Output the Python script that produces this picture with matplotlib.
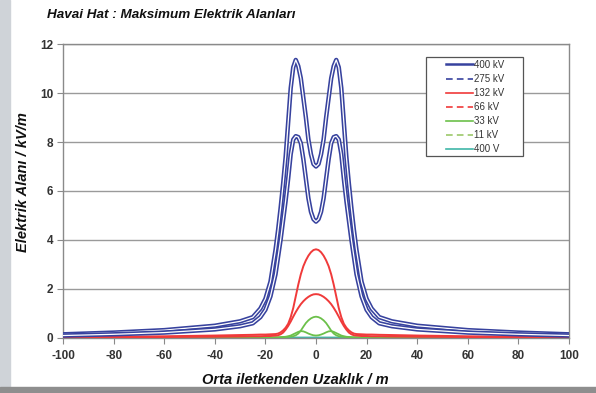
import matplotlib

matplotlib.use("Agg")
import matplotlib.pyplot as plt
from matplotlib.lines import Line2D
from matplotlib.patches import Rectangle
import matplotlib.patheffects as pe

plt.rcParams["font.family"] = ["Liberation Sans", "DejaVu Sans"]
plt.rcParams["axes.unicode_minus"] = False

# distance from the middle conductor (m)
x_m = [-100, -80, -60, -40, -30, -25, -22, -20, -18, -16, -15, -14, -13, -12, -11,
       -10, -9, -8, -7, -6, -5, -4, -3, -2, -1, 0, 1, 2, 3, 4, 5, 6, 7, 8, 9, 10,
       11, 12, 13, 14, 15, 16, 18, 20, 22, 25, 30, 40, 60, 80, 100]

# field strength (kV/m), left half incl. 0; the right half mirrors it
e_400kv_left = [0.15, 0.22, 0.32, 0.5, 0.68, 0.85, 1.2, 1.6, 2.3, 3.6, 4.4, 5.3,
                6.3, 7.4, 8.8, 10.2, 11.05, 11.35, 11.1, 10.6, 9.8, 9.0, 8.1, 7.5,
                7.1, 7.0]
e_275kv_left = [0.1, 0.15, 0.22, 0.35, 0.48, 0.6, 0.85, 1.15, 1.7, 2.6, 3.3, 4.0,
                4.8, 5.6, 6.5, 7.5, 8.1, 8.24, 8.2, 7.95, 7.3, 6.5, 5.7, 5.15, 4.85,
                4.75]
e_132kv_left = [0.04, 0.05, 0.07, 0.1, 0.12, 0.13, 0.14, 0.14, 0.15, 0.16, 0.18,
                0.23, 0.31, 0.42, 0.58, 0.85, 1.22, 1.7, 2.18, 2.6, 2.93, 3.17, 3.36,
                3.5, 3.59, 3.62]
e_66kv_left = [0.02, 0.03, 0.04, 0.05, 0.06, 0.07, 0.07, 0.08, 0.08, 0.1, 0.11, 0.15,
               0.22, 0.34, 0.49, 0.67, 0.87, 1.06, 1.23, 1.38, 1.5, 1.6, 1.68, 1.74,
               1.78, 1.79]
e_33kv_left = [0.01, 0.01, 0.01, 0.01, 0.02, 0.02, 0.02, 0.02, 0.02, 0.03, 0.03, 0.03,
               0.04, 0.04, 0.05, 0.06, 0.07, 0.11, 0.18, 0.3, 0.46, 0.61, 0.72, 0.8,
               0.85, 0.87]
e_11kv_left = [0.0, 0.0, 0.0, 0.0, 0.01, 0.01, 0.01, 0.01, 0.01, 0.02, 0.02, 0.03,
               0.04, 0.05, 0.07, 0.1, 0.15, 0.2, 0.25, 0.28, 0.27, 0.23, 0.18, 0.14,
               0.11, 0.1]
e_400v_left = [0.0, 0.0, 0.0, 0.0, 0.0, 0.0, 0.0, 0.0, 0.0, 0.0, 0.0, 0.01, 0.01, 0.01,
               0.01, 0.01, 0.01, 0.02, 0.02, 0.02, 0.02, 0.02, 0.02, 0.02, 0.02, 0.02]

labels = ["400 kV", "275 kV", "132 kV", "66 kV", "33 kV", "11 kV", "400 V"]


def mirrored(left):
    return left + left[-2::-1]


blue = "#37429e"
red = "#f03a3a"
green = "#6cc04a"
lgreen = "#9cc86a"
teal = "#3fb6a8"

fig = plt.figure(figsize=(5.96, 3.93), dpi=100)
fig.patch.set_facecolor("white")
# gray frame strips of the screenshot
fig.add_artist(Rectangle((0, 0), 0.016, 1, transform=fig.transFigure,
                         color="#cfd3d8", zorder=0))
fig.add_artist(Rectangle((0, 0), 1, 0.014, transform=fig.transFigure,
                         color="#8e8e8e", zorder=0))

ax = fig.add_axes([0.1057, 0.140, 0.849, 0.748])

outline = [pe.Stroke(linewidth=3.2, foreground=blue), pe.Normal()]
ax.plot(x_m, mirrored(e_400kv_left), color="white", lw=0.9, path_effects=outline,
        zorder=5)
ax.plot(x_m, mirrored(e_275kv_left), color="white", lw=0.9, path_effects=outline,
        zorder=5)
ax.plot(x_m, mirrored(e_132kv_left), color=red, lw=1.4, zorder=4)
ax.plot(x_m, mirrored(e_66kv_left), color=red, lw=1.4, zorder=4)
ax.plot(x_m, mirrored(e_33kv_left), color=green, lw=1.3, zorder=3)
ax.plot(x_m, mirrored(e_11kv_left), color=green, lw=1.3, zorder=3)
ax.plot(x_m, mirrored(e_400v_left), color=teal, lw=1.3, zorder=2)

ax.set_xlim(-100, 100)
ax.set_ylim(0, 12)
ax.set_xticks(range(-100, 101, 20))
ax.set_yticks(range(0, 13, 2))
ax.grid(axis="y", color="#9a9a9a", lw=1.0)
ax.set_axisbelow(True)
for s in ax.spines.values():
    s.set_color("#8a8a8a")
    s.set_linewidth(1.0)
ax.tick_params(colors="#8a8a8a", labelcolor="#333333", labelsize=8.5, length=4,
               direction="out", pad=3)
ax.tick_params(axis="x", pad=5)
for t in ax.get_xticklabels() + ax.get_yticklabels():
    t.set_fontweight("bold")

ax.set_xlabel("Orta iletkenden Uzaklık / m", fontsize=10.5, fontstyle="italic",
              fontweight="bold", color="#111111")
ax.xaxis.set_label_coords(0.46, -0.12)
ax.set_ylabel("Elektrik Alanı / kV/m", fontsize=10.5, fontstyle="italic",
              fontweight="bold", color="#111111")
ax.yaxis.set_label_coords(-0.066, 0.53)
fig.text(0.079, 0.962, "Havai Hat : Maksimum Elektrik Alanları", fontsize=9.7,
         fontstyle="italic", fontweight="bold", color="#111111", va="center")

# legend box drawn separately so it can be wider than the entries
ax.add_patch(Rectangle((0.717, 0.619), 0.192, 0.337, transform=ax.transAxes,
                       facecolor="white", edgecolor="#555555", lw=0.9, zorder=6))
handles = [
    Line2D([], [], color=blue, lw=1.8),
    Line2D([], [], color=blue, lw=1.2, ls=(0, (4, 2.5))),
    Line2D([], [], color=red, lw=1.2),
    Line2D([], [], color=red, lw=1.2, ls=(0, (4, 2.5))),
    Line2D([], [], color=green, lw=1.2),
    Line2D([], [], color=lgreen, lw=1.2, ls=(0, (4, 2.5))),
    Line2D([], [], color=teal, lw=1.2),
]
leg = ax.legend(handles, labels, loc="upper left", bbox_to_anchor=(0.757, 0.946),
                borderaxespad=0, borderpad=0, fontsize=7, frameon=False,
                handlelength=2.8, handletextpad=0.05, labelspacing=0.42)
leg.set_zorder(7)
for t in leg.get_texts():
    t.set_color("#333333")

fig.savefig("out.png", dpi=100)
